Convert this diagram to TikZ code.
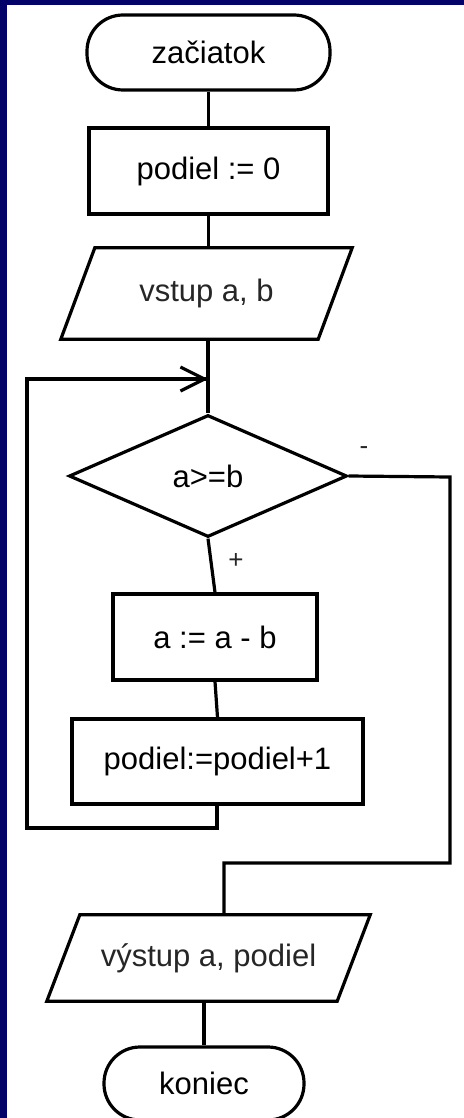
\documentclass[tikz,border=0pt]{standalone}
\usepackage{fontspec}
\setmainfont{Liberation Sans}
\usetikzlibrary{shapes.geometric,arrows.meta}
\definecolor{frameblue}{RGB}{2,2,104}
\begin{document}
\begin{tikzpicture}[x=1pt,y=-1pt,
  every node/.style={font=\fontsize{31}{37}\selectfont, text=black!85},
  line/.style={line width=3.2pt, black},
  terminal/.style={line, draw, rectangle, rounded corners=36pt, inner sep=0pt},
  proc/.style={line, draw, rectangle, inner sep=0pt},
  io/.style={rectangle, inner sep=0pt},
  decision/.style={line, draw, diamond, inner sep=0pt},
  mark label/.style={font=\fontsize{26}{30}\selectfont}
]
\useasboundingbox (0,0) rectangle (463,1118);
\fill[white] (-5,-5) rectangle (470,1125);
\fill[frameblue] (-5,-5) rectangle (7,1125);
\fill[frameblue] (-5,-5) rectangle (470,5);

% nodes
\node[terminal, minimum width=243pt, minimum height=75pt] (start) at (208.5,52.5) {začiatok};
\node[proc, minimum width=239pt, minimum height=86pt] (init) at (208.5,171) {podiel := 0};
\node[io, minimum width=257pt, minimum height=91pt] (in) at (206.5,293.5) {vstup a, b};
\draw[line, line join=miter] ([xshift=17pt]in.north west) -- ([xshift=17pt]in.north east)
  -- ([xshift=-17pt]in.south east) -- ([xshift=-17pt]in.south west) -- cycle;
\node[decision, minimum width=278pt, minimum height=122pt] (dec) at (208,476) {a>=b};
\node[proc, minimum width=204pt, minimum height=86pt] (sub) at (215,637) {a := a - b};
\node[proc, minimum width=291pt, minimum height=85pt] (inc) at (217.5,761.5) {podiel:=podiel+1};
\node[io, minimum width=290pt, minimum height=86pt] (out) at (208.5,958) {výstup a, podiel};
\draw[line, line join=miter] ([xshift=16.5pt]out.north west) -- ([xshift=16.5pt]out.north east)
  -- ([xshift=-16.5pt]out.south east) -- ([xshift=-16.5pt]out.south west) -- cycle;
\node[terminal, minimum width=200pt, minimum height=73pt] (end) at (204,1083.5) {koniec};

% labels
\node[mark label] (minus) at (364,451) {-};
\node[mark label] (plus) at (236,561) {+};

% coordinates
\coordinate (m) at (208,379);
\coordinate (l1) at (217,828);
\coordinate (l2) at (27,828);
\coordinate (l3) at (27,379);
\coordinate (r1) at (450,477);
\coordinate (r2) at (450,863);
\coordinate (r3) at (224,863);

% connectors
\draw[line] (start.south) -- (init.north);
\draw[line] (init.south) -- (init.south |- in.north);
\draw[line] (in.south -| dec.north) -- (dec.north);
\draw[line] (dec.south) -- (sub.north);
\draw[line] (sub.south) -- (inc.north);
\draw[line] (inc.south -| l1) -- (l1) -- (l2) -- (l3) -- (m);
\draw[line, -{Straight Barb[length=24pt,width=24pt,line width=3.2pt]}] (l3) -- (m);
\draw[line] (dec.east) -- (r1) -- (r2) -- (r3) -- (r3 |- out.north);
\draw[line] (out.south -| end.north) -- (end.north);
\end{tikzpicture}
\end{document}
